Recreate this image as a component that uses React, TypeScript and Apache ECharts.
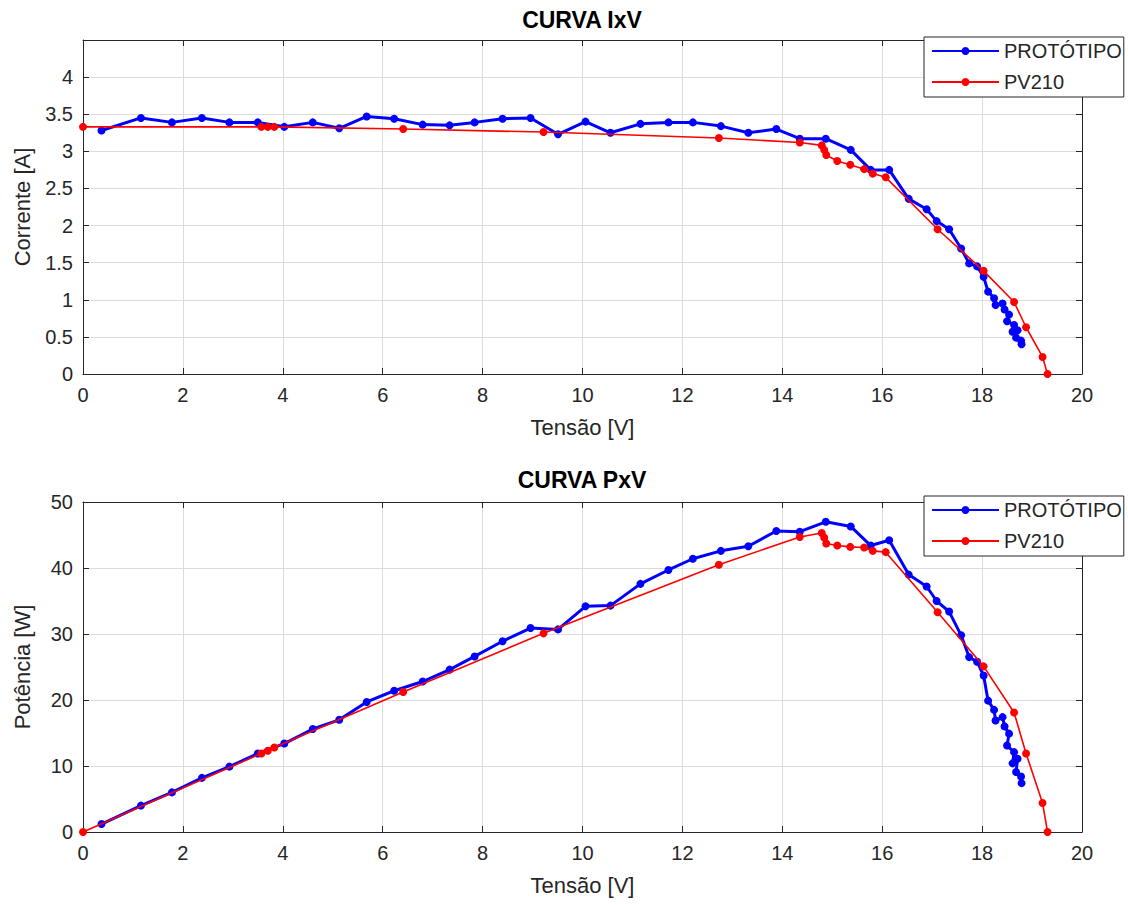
import React, { useEffect, useRef } from "react";
import * as echarts from "echarts";

// PROTÓTIPO (measured) — voltage [V], current [A], power [W]
const protoV = [0.37, 1.16, 1.78, 2.38, 2.93, 3.5, 4.03, 4.6, 5.13, 5.68, 6.23, 6.8, 7.34, 7.84, 8.4, 8.96, 9.51, 10.06, 10.56, 11.16, 11.72, 12.21, 12.77, 13.32, 13.88, 14.35, 14.87, 15.37, 15.77, 16.14, 16.53, 16.89, 17.09, 17.34, 17.58, 17.74, 17.9, 18.03, 18.12, 18.24, 18.27, 18.41, 18.45, 18.54, 18.5, 18.64, 18.61, 18.71, 18.68, 18.78, 18.79];
const protoI = [3.28, 3.45, 3.39, 3.45, 3.39, 3.39, 3.33, 3.39, 3.31, 3.47, 3.44, 3.36, 3.35, 3.39, 3.44, 3.45, 3.23, 3.4, 3.25, 3.37, 3.39, 3.39, 3.34, 3.25, 3.3, 3.17, 3.17, 3.02, 2.75, 2.75, 2.36, 2.22, 2.06, 1.95, 1.69, 1.49, 1.45, 1.31, 1.11, 1.02, 0.93, 0.95, 0.87, 0.8, 0.71, 0.66, 0.57, 0.59, 0.49, 0.45, 0.4];
const protoP = [1.2, 4.0, 6.0, 8.2, 9.9, 11.9, 13.4, 15.6, 17.0, 19.7, 21.4, 22.8, 24.6, 26.6, 28.9, 30.9, 30.7, 34.2, 34.3, 37.6, 39.7, 41.4, 42.6, 43.3, 45.6, 45.5, 47.0, 46.3, 43.4, 44.2, 39.0, 37.2, 35.0, 33.4, 29.8, 26.5, 25.8, 23.7, 19.9, 18.5, 16.9, 17.4, 16.0, 14.9, 13.1, 12.1, 10.4, 11.1, 9.1, 8.4, 7.4];

// PV210 (datasheet model)
const pvV = [0, 3.57, 3.7, 3.83, 6.41, 9.22, 12.73, 14.35, 14.79, 14.84, 14.88, 15.1, 15.36, 15.64, 15.81, 16.07, 17.11, 18.03, 18.64, 18.88, 19.21, 19.31];
const pvI = [3.33, 3.33, 3.33, 3.33, 3.3, 3.26, 3.18, 3.12, 3.08, 3.02, 2.95, 2.87, 2.82, 2.76, 2.7, 2.65, 1.95, 1.39, 0.97, 0.63, 0.23, 0];
const pvP = [0, 11.9, 12.3, 12.8, 21.2, 30.1, 40.5, 44.7, 45.3, 44.6, 43.7, 43.4, 43.2, 43.1, 42.6, 42.4, 33.3, 25.1, 18.1, 11.9, 4.4, 0];

const seriesNames = ["PROTÓTIPO", "PV210"];
const titles = ["CURVA IxV", "CURVA PxV"];
const xName = "Tensão [V]";
const yNames = ["Corrente [A]", "Potência [W]"];

const FONT = '"Liberation Sans", Arial, Helvetica, sans-serif';
const AX = "#262626";

const zip = (a: number[], b: number[]) => a.map((v, i) => [v, b[i]]);

export default function App() {
  const ref = useRef<HTMLDivElement>(null);
  useEffect(() => {
    if (!ref.current) return;
    const chart = echarts.init(ref.current, undefined, { renderer: "svg" });

    const grids = [
      { left: 83, top: 40, width: 999, height: 334 },
      { left: 83, top: 502, width: 999, height: 330 },
    ];

    const xMain = (gi: number) => ({
      type: "value",
      gridIndex: gi,
      position: "bottom",
      min: 0,
      max: 20,
      interval: 2,
      name: xName,
      nameLocation: "middle",
      nameGap: 42,
      nameTextStyle: { fontSize: 22, color: AX, fontFamily: FONT },
      axisLine: { show: true, onZero: false, lineStyle: { color: AX, width: 1 } },
      axisTick: { show: true, inside: true, length: 6, lineStyle: { color: AX } },
      axisLabel: { show: true, margin: 11, fontSize: 20, color: AX, fontFamily: FONT },
      splitLine: { show: true, lineStyle: { color: "#dcdcdc", width: 1 } },
    });
    const xTop = (gi: number) => ({
      type: "value",
      gridIndex: gi,
      position: "top",
      min: 0,
      max: 20,
      interval: 2,
      axisLine: { show: true, onZero: false, lineStyle: { color: AX, width: 1 } },
      axisTick: { show: true, inside: true, length: 6, lineStyle: { color: AX } },
      axisLabel: { show: false },
      splitLine: { show: false },
    });
    const yMain = (gi: number, max: number, interval: number, name: string, hideAbove: number) => ({
      type: "value",
      gridIndex: gi,
      position: "left",
      min: 0,
      max,
      interval,
      name,
      nameLocation: "middle",
      nameGap: 50,
      nameTextStyle: { fontSize: 22, color: AX, fontFamily: FONT },
      axisLine: { show: true, onZero: false, lineStyle: { color: AX, width: 1 } },
      axisTick: { show: true, inside: true, length: 6, lineStyle: { color: AX } },
      axisLabel: {
        show: true,
        margin: 10,
        fontSize: 20,
        color: AX,
        fontFamily: FONT,
        formatter: (v: number) => (v > hideAbove ? "" : String(v)),
      },
      splitLine: { show: true, lineStyle: { color: "#dcdcdc", width: 1 } },
    });
    const yRight = (gi: number, max: number, interval: number) => ({
      type: "value",
      gridIndex: gi,
      position: "right",
      min: 0,
      max,
      interval,
      axisLine: { show: true, onZero: false, lineStyle: { color: AX, width: 1 } },
      axisTick: { show: true, inside: true, length: 6, lineStyle: { color: AX } },
      axisLabel: { show: false },
      splitLine: { show: false },
    });

    const mkSeries = (name: string, data: number[][], xi: number, yi: number, color: string, width: number, z: number) => ({
      name,
      type: "line",
      xAxisIndex: xi,
      yAxisIndex: yi,
      data,
      symbol: "circle",
      symbolSize: 8,
      showSymbol: true,
      lineStyle: { color, width },
      itemStyle: { color },
      z,
    });

    const legend = (top: number) => ({
      data: seriesNames,
      orient: "vertical",
      left: 924,
      top,
      itemWidth: 67,
      itemHeight: 10,
      itemGap: 11,
      padding: [4, 2, 5, 7],
      borderColor: AX,
      borderWidth: 1,
      backgroundColor: "#ffffff",
      selectedMode: false,
      textStyle: { fontSize: 20, color: AX, fontFamily: FONT },
    });

    chart.setOption({
      animation: false,
      backgroundColor: "#ffffff",
      title: [
        { text: titles[0], left: 582, top: 8, textAlign: "center", padding: 0, textStyle: { fontSize: 23, fontWeight: "bold", color: "#000", fontFamily: FONT } },
        { text: titles[1], left: 582, top: 468, textAlign: "center", padding: 0, textStyle: { fontSize: 23, fontWeight: "bold", color: "#000", fontFamily: FONT } },
      ],
      legend: [legend(37), legend(496)],
      grid: grids,
      xAxis: [xMain(0), xTop(0), xMain(1), xTop(1)],
      yAxis: [yMain(0, 4.5, 0.5, yNames[0], 4.25), yRight(0, 4.5, 0.5), yMain(1, 50, 10, yNames[1], 100), yRight(1, 50, 10)],
      series: [
        mkSeries(seriesNames[0], zip(protoV, protoI), 0, 0, "#0000ff", 3, 2),
        mkSeries(seriesNames[1], zip(pvV, pvI), 0, 0, "#ff0000", 1.6, 3),
        mkSeries(seriesNames[0], zip(protoV, protoP), 2, 2, "#0000ff", 3, 2),
        mkSeries(seriesNames[1], zip(pvV, pvP), 2, 2, "#ff0000", 1.6, 3),
      ],
    });
    return () => chart.dispose();
  }, []);
  return <div ref={ref} style={{ position: "fixed", left: 0, top: 0, width: 1128, height: 905 }} />;
}
